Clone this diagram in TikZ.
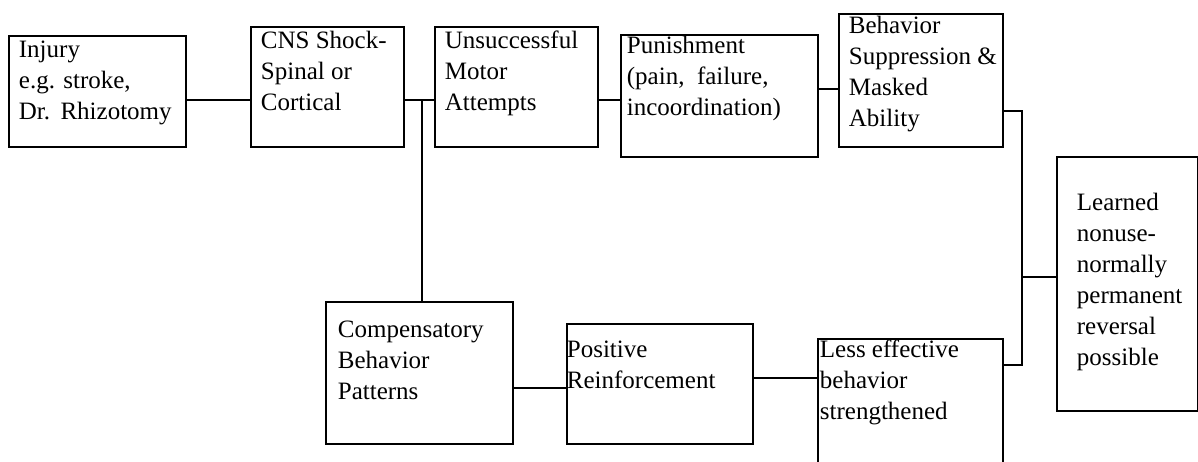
\documentclass[tikz,border=0pt]{standalone}
\usepackage{fontspec}
\setmainfont{Liberation Serif}
\newcommand\bt[5]{\vbox to #2pt{\hsize=#1pt\parindent=0pt\leftskip=#3pt\rightskip=0pt plus 1fil\baselineskip=31pt\lineskiplimit=-100pt\kern#4pt\noindent\rule{0pt}{18pt}#5\par\vfil}}
\tikzset{
  box/.style={draw, line width=1.8pt, inner sep=0pt, anchor=north west, font=\fontsize{25}{31}\selectfont},
  conn/.style={line width=1.8pt}
}
\begin{document}
\begin{tikzpicture}[x=1pt,y=-1pt]
\useasboundingbox (0,0) rectangle (1198,462);
\clip (0,0) rectangle (1198,462);
\node[box] (inj) at (8,35) {\bt{177}{111}{10}{4}{Injury\\e.g. stroke,\\Dr.\ \,Rhizotomy}};
\node[box] (cns) at (250,26) {\bt{153}{120}{10}{4}{CNS Shock-\\Spinal or\\Cortical}};
\node[box] (uns) at (434,26) {\bt{163}{120}{10}{4}{Unsuccessful\\Motor\\Attempts}};
\node[box] (pun) at (620,34) {\bt{197}{122}{6}{1}{Punishment\\(pain,\ \ failure,\\incoordination)}};
\node[box] (beh) at (838,13) {\bt{164}{133}{10}{2}{Behavior\\Suppression \&\\Masked\\Ability}};
\node[box] (lrn) at (1056,156) {\bt{141}{254}{20}{36}{Learned\\nonuse-\\normally\\permanent\\reversal\\possible}};
\node[box] (cmp) at (325,301) {\bt{187}{142}{12}{18}{Compensatory\\Behavior\\Patterns}};
\node[box] (pos) at (566,323) {\bt{186}{120}{0}{16}{Positive\\Reinforcement}};
\node[box] (les) at (817,338) {\bt{185}{140}{2}{1}{Less effective\\behavior\\strengthened}};
\coordinate (r1) at (0,100);
\coordinate (r2) at (0,89);
\coordinate (j1) at (422,100);
\coordinate (b1) at (1022,111);
\coordinate (b2) at (1022,365);
\coordinate (bus) at (1022,277);
\coordinate (r3) at (0,388);
\coordinate (r4) at (0,378);
\draw[conn] (inj.east |- r1) -- (cns.west |- r1);
\draw[conn] (cns.east |- r1) -- (uns.west |- r1);
\draw[conn] (uns.east |- r1) -- (pun.west |- r1);
\draw[conn] (pun.east |- r2) -- (beh.west |- r2);
\draw[conn] (j1) -- (j1 |- cmp.north);
\draw[conn] (beh.east |- b1) -- (b1) -- (b2) -- (les.east |- b2);
\draw[conn] (bus) -- (lrn.west |- bus);
\draw[conn] (cmp.east |- r3) -- (pos.west |- r3);
\draw[conn] (pos.east |- r4) -- (les.west |- r4);
\end{tikzpicture}
\end{document}
